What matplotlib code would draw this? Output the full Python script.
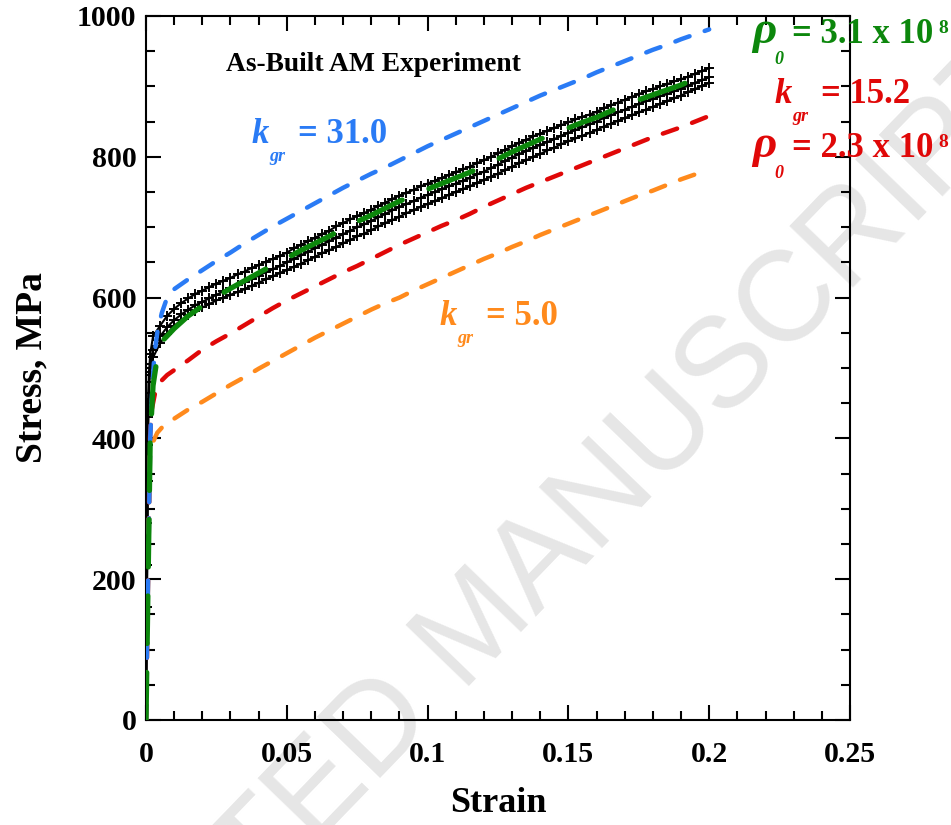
import matplotlib
matplotlib.use("Agg")
import matplotlib.pyplot as plt
from matplotlib.ticker import MultipleLocator

# ---------------- data ----------------
# Experimental true stress-strain curves (three as-built AM specimens)
exp_strain_elastic = [0, 0.0001, 0.0002, 0.0003, 0.0004, 0.0005, 0.0006,
                      0.0007, 0.0008, 0.001, 0.0015, 0.0025]
exp_strain_plastic = [round(0.005 + 0.0025 * i, 4) for i in range(79)]
exp_strain = exp_strain_elastic + exp_strain_plastic

exp_stress_a = [0, 50, 100, 160, 220, 280, 340, 400, 450, 490, 520, 545,
                560, 574, 584, 592, 599, 605, 610, 615, 620, 624,
                628, 633, 637, 642, 646, 651, 655, 659, 664, 670,
                675, 680, 685, 690, 695, 701, 706, 711, 716, 720,
                725, 730, 735, 740, 745, 749, 753, 758, 762, 766,
                770, 774, 778, 782, 786, 791, 795, 800, 805, 810,
                815, 820, 824, 829, 833, 837, 841, 845, 849, 853,
                857, 860, 864, 869, 873, 877, 881, 885, 889, 893,
                896, 900, 903, 907, 910, 914, 918, 922, 926]
exp_stress_b = [0, 50, 100, 160, 220, 280, 340, 400, 445, 480, 505, 525,
                545, 558, 568, 576, 583, 589, 594, 599, 604, 609,
                613, 618, 622, 627, 631, 636, 640, 645, 650, 655,
                660, 665, 670, 675, 680, 685, 690, 695, 700, 704,
                709, 714, 719, 724, 729, 733, 737, 742, 746, 750,
                754, 758, 762, 766, 770, 775, 779, 784, 789, 794,
                799, 804, 808, 813, 817, 821, 825, 830, 834, 838,
                842, 846, 850, 855, 859, 863, 867, 871, 875, 879,
                882, 886, 889, 893, 897, 901, 905, 909, 913]
exp_stress_c = [0, 50, 100, 160, 220, 280, 340, 390, 430, 465, 495, 515,
                535, 549, 560, 568, 575, 581, 586, 591, 596, 600,
                604, 608, 612, 617, 621, 626, 630, 635, 639, 644,
                648, 653, 658, 663, 667, 672, 677, 682, 687, 691,
                696, 701, 706, 710, 715, 720, 724, 729, 733, 737,
                741, 746, 750, 754, 758, 763, 767, 772, 776, 781,
                786, 791, 795, 800, 804, 809, 813, 818, 822, 826,
                830, 834, 838, 843, 847, 851, 855, 859, 863, 867,
                871, 875, 879, 883, 887, 892, 896, 901, 905]

# Model predictions: common strain grid past the initial yield region
model_strain_tail = [0.015, 0.02, 0.025, 0.03, 0.035, 0.04, 0.045, 0.05,
                     0.055, 0.06, 0.065, 0.07, 0.075, 0.08, 0.085, 0.09, 0.095, 0.1,
                     0.105, 0.11, 0.115, 0.12, 0.125, 0.13, 0.135, 0.14, 0.145, 0.15,
                     0.155, 0.16, 0.165, 0.17, 0.175, 0.18, 0.185, 0.19, 0.195, 0.2]

# k_gr = 31.0
blue_strain = [0, 0.0015, 0.0022, 0.003, 0.004, 0.0056, 0.0075, 0.01] + model_strain_tail
blue_stress = [0, 400, 470, 520, 550, 578, 600, 612,
               626, 639, 652, 664, 677, 689, 701, 712,
               723, 734, 745, 756, 766, 776, 785, 795, 805, 815,
               824, 833, 842, 851, 860, 869, 878, 887, 895, 903,
               911, 920, 928, 936, 944, 952, 959, 967, 974, 981]

# fitted model: k_gr = 15.2, rho_0 = 3.1e8
green_strain = [0, 0.0015, 0.0025, 0.004, 0.0062, 0.01] + model_strain_tail
green_stress = [0, 400, 475, 515, 540, 556,
                574, 588, 601, 613, 624, 635, 646, 656,
                667, 677, 687, 698, 708, 717, 727, 737, 745, 754,
                762, 770, 778, 787, 797, 807, 816, 825, 833, 841,
                849, 856, 865, 873, 881, 888, 895, 902, 911, 919]

# k_gr = 15.2, rho_0 = 2.3e8
red_strain = [0, 0.0014, 0.002, 0.0032, 0.005, 0.0075, 0.01] + model_strain_tail
red_stress = [0, 400, 440, 464, 480, 490, 497,
              511, 526, 538, 549, 561, 573, 585, 596,
              606, 616, 626, 636, 645, 655, 665, 675, 684, 693,
              702, 710, 719, 729, 738, 747, 756, 764, 772, 780,
              788, 796, 804, 812, 820, 828, 835, 842, 850, 858]

# k_gr = 5.0
orange_strain = [0, 0.0014, 0.0025, 0.004, 0.006, 0.01] + model_strain_tail
orange_stress = [0, 375, 395, 408, 417, 428,
                 441, 452, 464, 476, 487, 499, 510, 521,
                 532, 543, 553, 563, 573, 583, 592, 600, 610, 619,
                 628, 637, 646, 655, 663, 672, 680, 689, 697, 705,
                 713, 721, 729, 737, 745, 752, 760, 768, 775, 781]

for s in (exp_stress_a, exp_stress_b, exp_stress_c):
    assert len(s) == len(exp_strain)
assert len(blue_stress) == len(blue_strain)
assert len(green_stress) == len(green_strain)
assert len(red_stress) == len(red_strain)
assert len(orange_stress) == len(orange_strain)

x_ticks = [0, 0.05, 0.1, 0.15, 0.2, 0.25]
x_tick_labels = ["0", "0.05", "0.1", "0.15", "0.2", "0.25"]
y_ticks = [0, 200, 400, 600, 800, 1000]

BLUE = "#2a7bf5"
RED = "#e00808"
GREEN = "#0c870c"
ORANGE = "#ff8a1c"

SERIF = "Liberation Serif"

# ---------------- figure ----------------
W, H = 951, 825
fig = plt.figure(figsize=(W / 100, H / 100), dpi=100)
fig.patch.set_facecolor("white")


def fx(x):
    return x / W


def fy(y):
    return 1 - y / H


# diagonal background stamp
fig.text(fx(478), fy(630), "ACCEPTED MANUSCRIPT", rotation=46,
         rotation_mode="anchor", ha="center", va="center",
         fontsize=92, family="Liberation Sans", color="#e6e6e6", zorder=0)

ax = fig.add_axes([fx(146), fy(720), 704 / W, 704 / H])
ax.set_facecolor("none")
ax.set_zorder(1)

# experiments
for ys in (exp_stress_a, exp_stress_b, exp_stress_c):
    ax.plot(exp_strain, ys, color="black", lw=1.5, marker="+", ms=7.5,
            mew=1.4, zorder=2)

dash_kw = dict(lw=3.2, dash_capstyle="round", zorder=3)
ax.plot(orange_strain, orange_stress, color=ORANGE, dashes=(3.4, 3.6), **dash_kw)
ax.plot(red_strain, red_stress, color=RED, dashes=(3.4, 3.6), **dash_kw)
ax.plot(blue_strain, blue_stress, color=BLUE, dashes=(3.4, 3.6), **dash_kw)
ax.plot(green_strain, green_stress, color=GREEN, dashes=(9.0, 5.5),
        lw=3.8, dash_capstyle="round", zorder=4)

ax.set_xlim(0, 0.25)
ax.set_ylim(0, 1000)
ax.set_xticks(x_ticks)
ax.set_xticklabels(x_tick_labels)
ax.set_yticks(y_ticks)
ax.xaxis.set_minor_locator(MultipleLocator(0.01))
ax.yaxis.set_minor_locator(MultipleLocator(50))
ax.tick_params(which="both", direction="in", top=True, right=True,
               width=1.5, colors="black")
ax.tick_params(which="major", length=11)
ax.tick_params(which="minor", length=6.5)
ax.tick_params(axis="x", which="major", pad=15)
ax.tick_params(axis="y", which="major", pad=7)
for lab in ax.get_xticklabels() + ax.get_yticklabels():
    lab.set_fontfamily(SERIF)
    lab.set_fontweight("bold")
    lab.set_fontsize(21.5)
for sp in ax.spines.values():
    sp.set_linewidth(1.5)

ax.set_xlabel("Strain", family=SERIF, weight="bold", fontsize=26, labelpad=14)
ax.set_ylabel("Stress, MPa", family=SERIF, weight="bold", fontsize=27, labelpad=20)

# annotations
fig.text(fx(226), fy(71), "As-Built AM Experiment", family=SERIF,
         weight="bold", fontsize=19.8, color="black", va="baseline", zorder=5)


def kgr_label(x, y, value, color):
    fig.text(fx(x), fy(y), "k", family=SERIF, weight="bold", style="italic",
             fontsize=25, color=color, va="baseline", zorder=5)
    fig.text(fx(x + 17), fy(y + 18), "gr", family=SERIF, weight="bold",
             style="italic", fontsize=13, color=color, va="baseline", zorder=5)
    fig.text(fx(x + 46), fy(y), "= " + value, family=SERIF, weight="bold",
             fontsize=25, color=color, va="baseline", zorder=5)


def rho_label(x, y, value, color):
    fig.text(fx(x), fy(y), "\u03c1", family=SERIF, weight="bold",
             style="italic", fontsize=34, color=color, va="baseline", zorder=5)
    fig.text(fx(x + 22), fy(y + 21), "0", family=SERIF, weight="bold",
             style="italic", fontsize=13, color=color, va="baseline", zorder=5)
    fig.text(fx(x + 40), fy(y), "= " + value + " x 10", family=SERIF,
             weight="bold", fontsize=25, color=color, va="baseline", zorder=5)
    fig.text(fx(x + 186), fy(y - 10), "8", family=SERIF, weight="bold",
             fontsize=14, color=color, va="baseline", zorder=5)


kgr_label(252, 143, "31.0", BLUE)
kgr_label(440, 325, "5.0", ORANGE)
kgr_label(775, 103, "15.2", RED)
rho_label(752, 43, "3.1", GREEN)
rho_label(752, 157, "2.3", RED)

fig.savefig("out.png", dpi=100, facecolor="white")
